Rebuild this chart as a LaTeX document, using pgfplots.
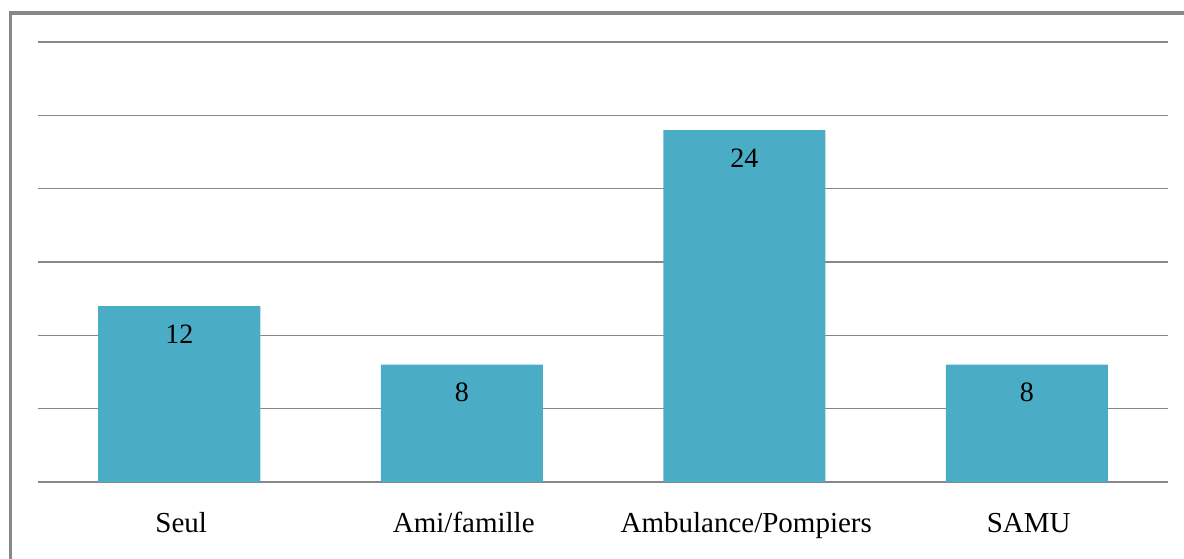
\documentclass[border=0pt]{standalone}
\usepackage{pgfplots}
\pgfplotsset{compat=1.18}
\usepackage{fontspec}
\setmainfont{Liberation Serif}
\definecolor{barc}{HTML}{4BACC6}
\definecolor{gridc}{HTML}{878787}
\begin{document}
\begin{tikzpicture}
\useasboundingbox (-19pt,-38pt) rectangle (573pt,241pt);
\begin{axis}[
  at={(0,0)}, anchor=south west,
  scale only axis, width=565pt, height=220pt,
  xmin=-0.5, xmax=3.5, ymin=0, ymax=30,
  ytick={0,5,...,30}, yticklabels={},
  xtick=data,
  xticklabels={Seul,Ami/famille,Ambulance/Pompiers,SAMU},
  major tick length=0pt,
  axis line style={draw=none},
  ymajorgrids, grid style={gridc, line width=0.6pt},
  ybar, bar width=81pt,
  /pgf/number format/assume math mode=true,
  tick label style={font=\fontsize{14.5}{16}\selectfont},
  xticklabel style={yshift=-12.5pt, xshift=1pt, text height=9pt, text depth=3pt},
  nodes near coords,
  nodes near coords style={anchor=center, yshift=-14pt, font=\fontsize{14}{16}\selectfont, /pgf/number format/assume math mode=true},
]
\addplot[fill=barc, draw=none] coordinates {(0,12) (1,8) (2,24) (3,8)};
\end{axis}
\draw[gridc, line width=1.6pt] (-13.75pt,-40pt) -- (-13.75pt,234.5pt) -- (580pt,234.5pt);
\end{tikzpicture}
\end{document}
